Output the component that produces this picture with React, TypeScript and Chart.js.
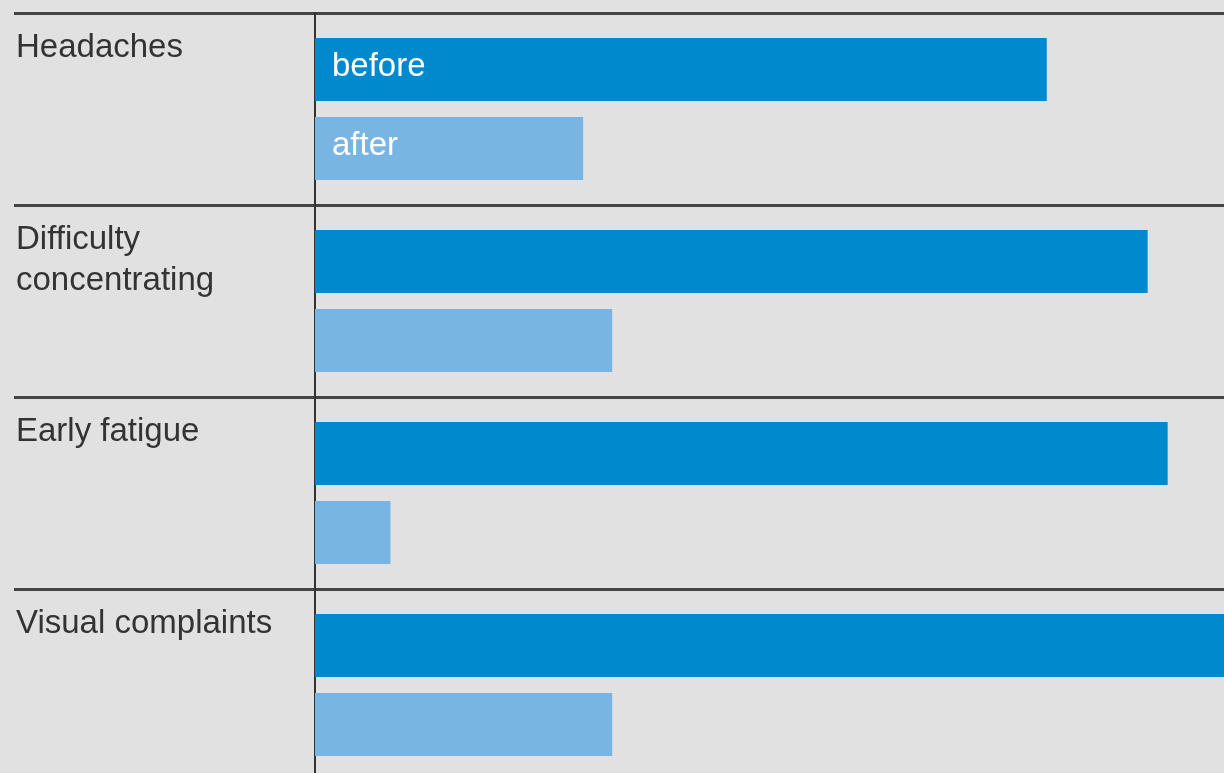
import React, { useEffect, useRef } from "react";
import { Chart, registerables } from "chart.js";

Chart.register(...registerables);

const categories: string[][] = [
  ["Headaches"],
  ["Difficulty", "concentrating"],
  ["Early fatigue"],
  ["Visual complaints"],
];
const seriesNames = ["before", "after"];
const beforeValues = [80.5, 91.6, 93.8, 100];
const afterValues = [29.5, 32.7, 8.3, 32.7];

const FONT = "'Liberation Sans', Arial, Helvetica, sans-serif";
const BG = "#e1e1e1";

const barLabelPlugin = {
  id: "barLabels",
  afterDatasetsDraw(chart: any) {
    const ctx = chart.ctx;
    chart.data.datasets.forEach((ds: any, i: number) => {
      const el = chart.getDatasetMeta(i).data[0];
      if (!el) return;
      const { base, x, y } = el.getProps(["base", "x", "y"], true);
      ctx.save();
      ctx.fillStyle = "#ffffff";
      ctx.font = `33px ${FONT}`;
      ctx.textBaseline = "middle";
      ctx.textAlign = "left";
      ctx.fillText(ds.label, Math.min(base, x) + 17, y - 3);
      ctx.restore();
    });
  },
};

export default function App() {
  const ref = useRef<HTMLCanvasElement | null>(null);

  useEffect(() => {
    if (!ref.current) return;
    const chart = new Chart(ref.current, {
      type: "bar",
      data: {
        labels: categories.map((c) => c.join(" ")),
        datasets: [
          {
            label: seriesNames[0],
            data: beforeValues,
            backgroundColor: "#0089cd",
            categoryPercentage: 0.823,
            barPercentage: 0.8,
          },
          {
            label: seriesNames[1],
            data: afterValues,
            backgroundColor: "#78b5e2",
            categoryPercentage: 0.823,
            barPercentage: 0.8,
          },
        ],
      },
      options: {
        indexAxis: "y",
        animation: false,
        responsive: false,
        maintainAspectRatio: false,
        layout: { padding: { left: 16, top: 13, right: 0, bottom: 0 } },
        plugins: {
          legend: { display: false },
          tooltip: { enabled: false },
        },
        scales: {
          x: { display: false, min: 0, max: 100 },
          y: {
            offset: true,
            grid: {
              offset: true,
              color: "#444444",
              lineWidth: 3,
              drawTicks: true,
              tickLength: 301,
              tickColor: "#444444",
              tickWidth: 3,
            },
            border: { display: true, color: "#333333", width: 2 },
            ticks: {
              autoSkip: false,
              crossAlign: "far",
              padding: 0,
              color: "#333333",
              font: { family: FONT, size: 33, lineHeight: "41px" },
              callback: (_v: any, i: number) => {
                const lines = [...categories[i]];
                while (lines.length < 4) lines.push("");
                return lines;
              },
            },
            afterFit: (s: any) => {
              s.width = 299;
              s.paddingTop = 0;
              s.paddingBottom = 0;
            },
          },
        },
      } as any,
      plugins: [barLabelPlugin],
    });
    return () => chart.destroy();
  }, []);

  return (
    <div
      style={{
        position: "fixed",
        left: 0,
        top: 0,
        width: 1224,
        height: 773,
        overflow: "hidden",
        background: BG,
      }}
    >
      <canvas
        ref={ref}
        width={1224}
        height={781}
        style={{ display: "block", width: 1224, height: 781 }}
      />
    </div>
  );
}
